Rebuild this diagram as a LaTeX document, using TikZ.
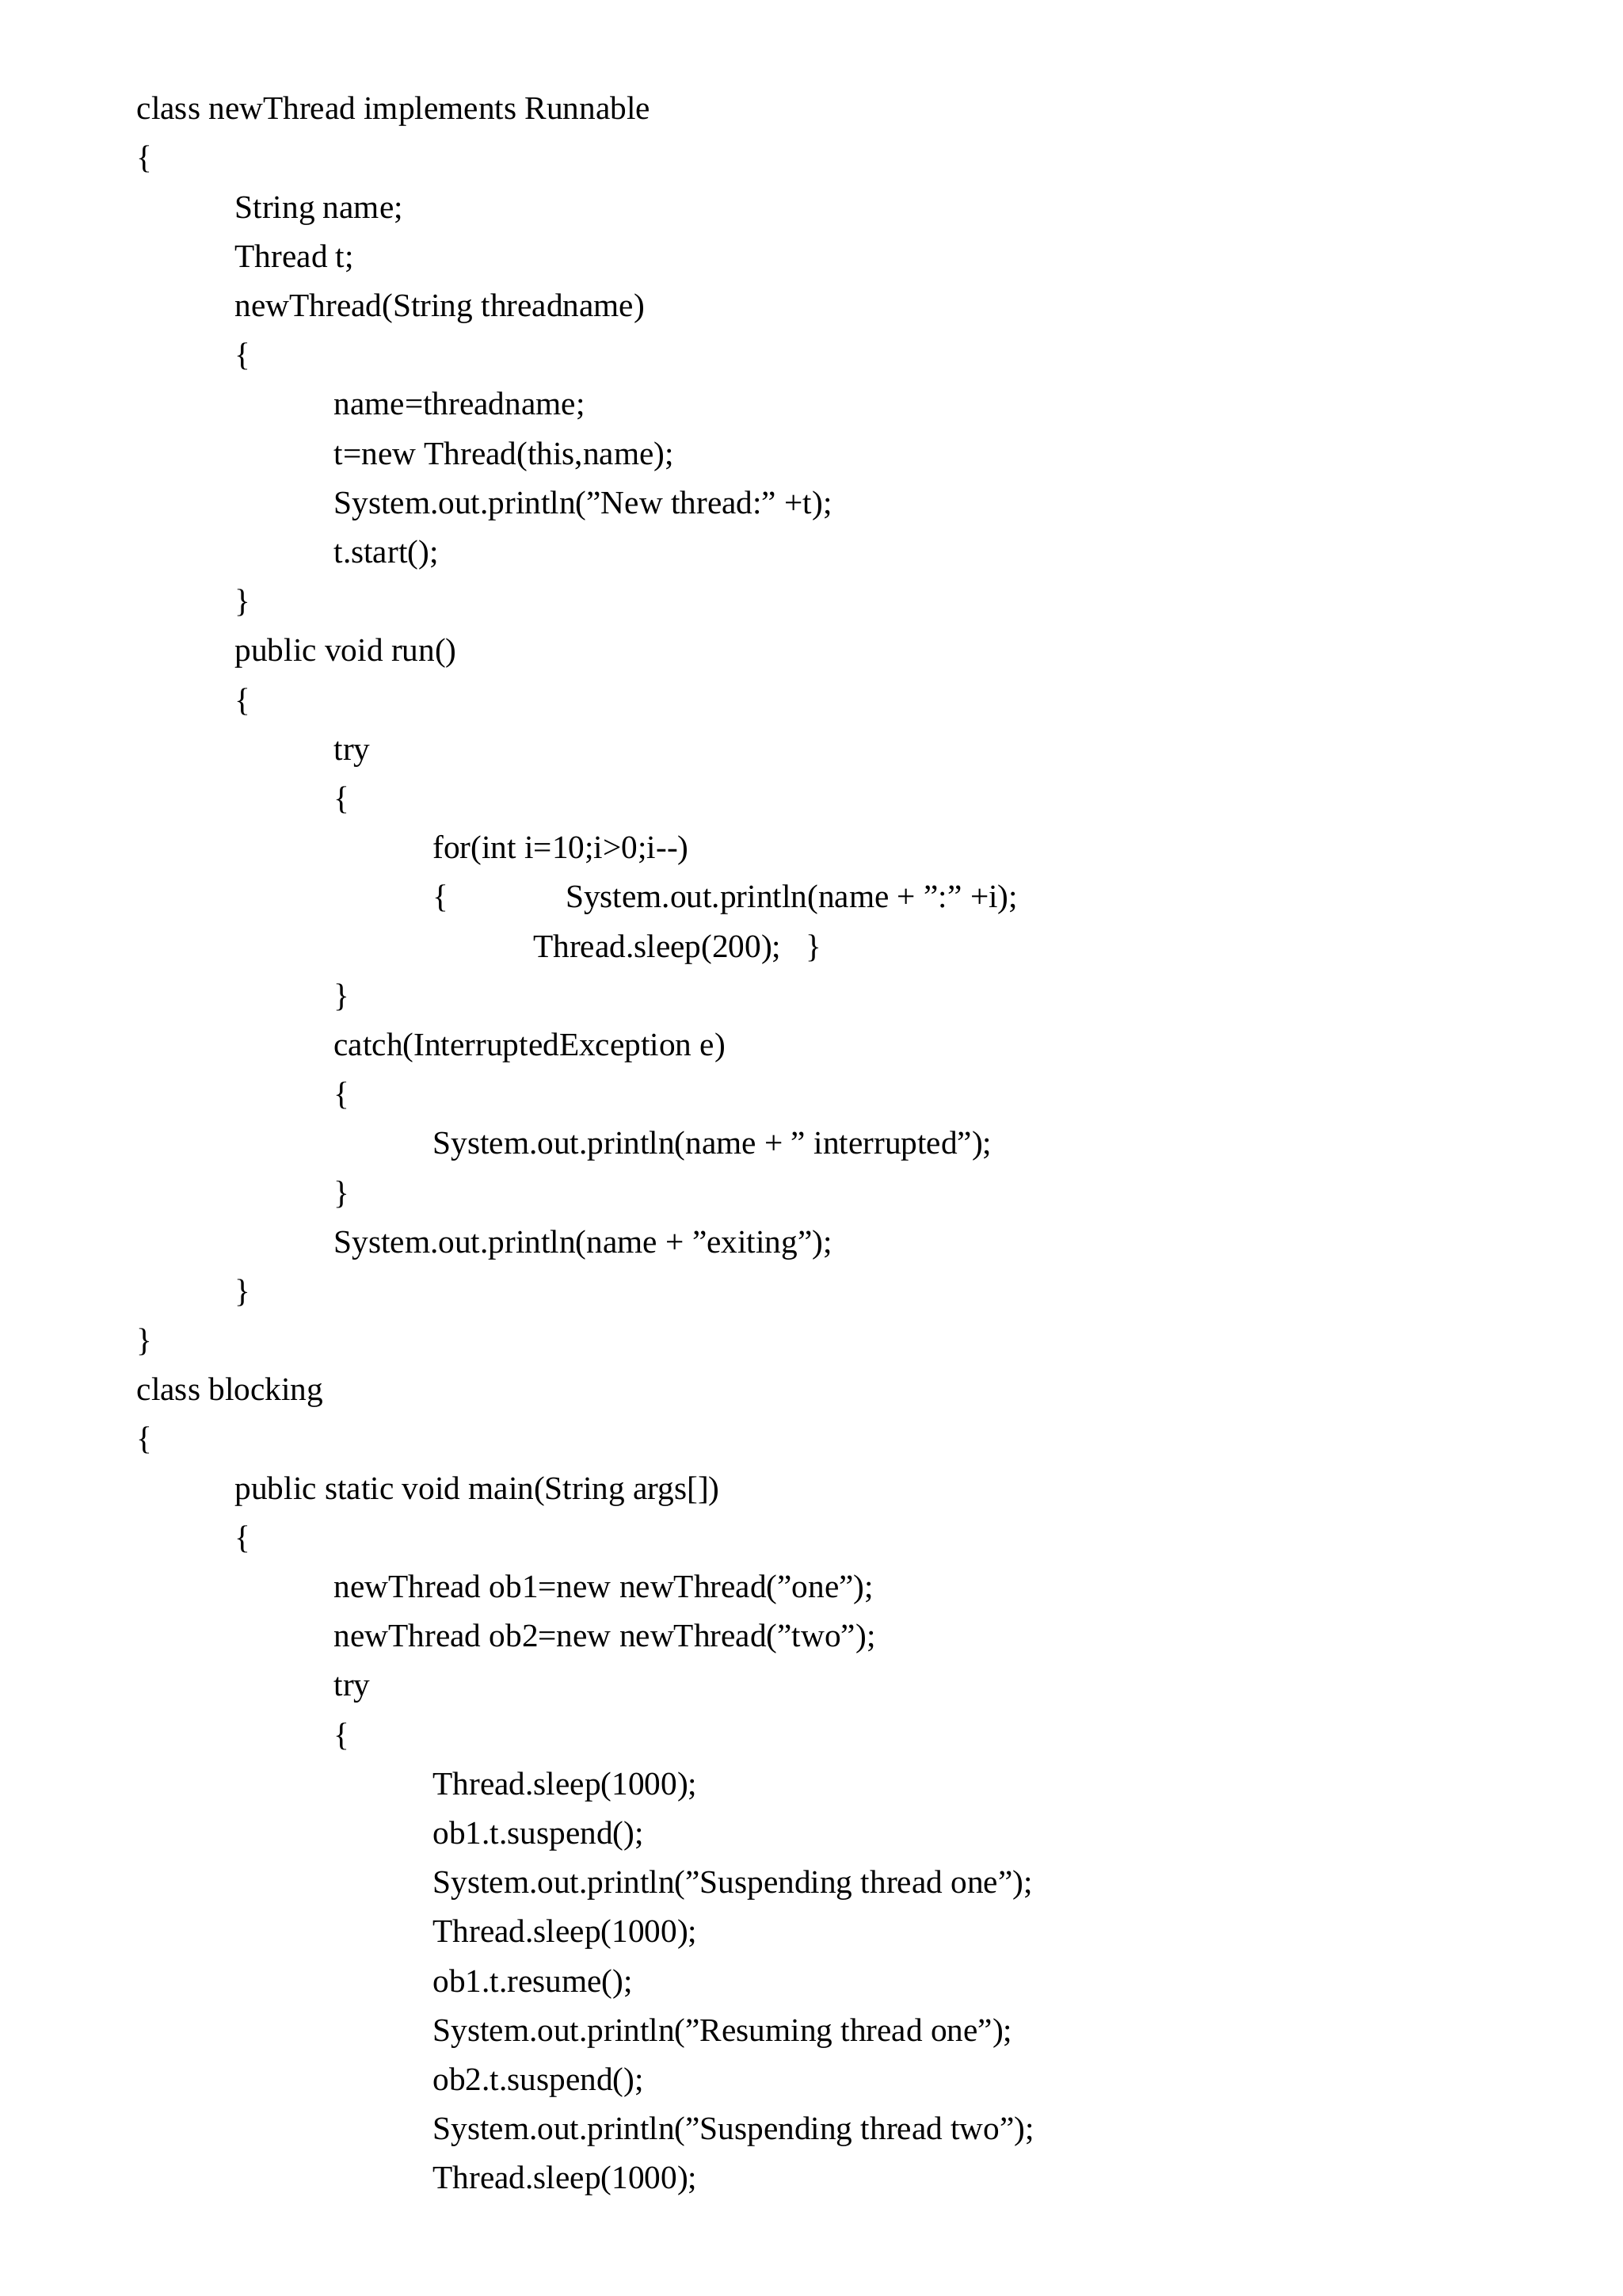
\documentclass[tikz,border=0pt]{standalone}
\usepackage{fontspec}
\setmainfont{Liberation Serif}
\begin{document}
\begin{tikzpicture}[x=1pt,y=1pt,code/.style={anchor=base west,inner sep=0pt,font=\fontsize{12}{14}\selectfont}]
\useasboundingbox (0,0) rectangle (595.3,-842);
\def\ls{18.07}
\def\yy#1{-43.8-(#1-1)*\ls}
\foreach \n/\x/\t in {
1/50/{class newThread implements Runnable},
2/50/{\{},
3/86/{String name;},
4/86/{Thread t;},
5/86/{newThread(String threadname)},
6/86/{\{},
7/122.3/{name=threadname;},
8/122.3/{t=new Thread(this,name);},
9/122.3/{System.out.println("New thread:" +t);},
10/122.3/{t.start();},
11/86/{\}},
12/86/{public void run()},
13/86/{\{},
14/122.3/{try},
15/122.3/{\{},
16/158.6/{for(int i=10;i>0;i{-}{-})},
17/158.6/{\{},
18/195.4/{Thread.sleep(200);\ \ \ \}},
19/122.3/{\}},
20/122.3/{catch(InterruptedException e)},
21/122.3/{\{},
22/158.6/{System.out.println(name + " interrupted");},
23/122.3/{\}},
24/122.3/{System.out.println(name + "exiting");},
25/86/{\}},
26/50/{\}},
27/50/{class blocking},
28/50/{\{},
29/86/{public static void main(String args[])},
30/86/{\{},
31/122.3/{newThread ob1=new newThread("one");},
32/122.3/{newThread ob2=new newThread("two");},
33/122.3/{try},
34/122.3/{\{},
35/158.6/{Thread.sleep(1000);},
36/158.6/{ob1.t.suspend();},
37/158.6/{System.out.println("Suspending thread one");},
38/158.6/{Thread.sleep(1000);},
39/158.6/{ob1.t.resume();},
40/158.6/{System.out.println("Resuming thread one");},
41/158.6/{ob2.t.suspend();},
42/158.6/{System.out.println("Suspending thread two");},
43/158.6/{Thread.sleep(1000);}}
{\node[code] (l\n) at (\x,{\yy{\n}}) {\t};}
\node[code] (l17b) at (207.3,{\yy{17}}) {System.out.println(name + ":" +i);};
\end{tikzpicture}
\end{document}
